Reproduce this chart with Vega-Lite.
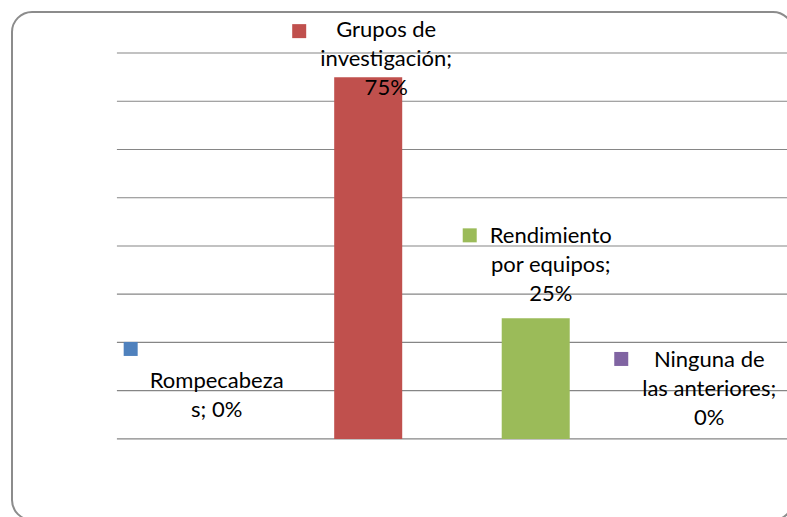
{
  "$schema": "https://vega.github.io/schema/vega-lite/v6.json",
  "width": 781,
  "height": 508,
  "autosize": {"type": "none"},
  "padding": {"left": 12, "top": 12, "right": 0, "bottom": 0},
  "background": "white",
  "config": {
    "view": {"stroke": "#8c8c8c", "strokeWidth": 2, "cornerRadius": 20},
    "text": {"font": "Lato", "fontSize": 22, "color": "#000000", "lineHeight": 29, "lineBreak": "\n"}
  },
  "datasets": {
    "bars": [
      {"cat": "Rompecabezas", "value": 0, "label": "Rompecabeza\ns; 0%"},
      {"cat": "Grupos de investigación", "value": 75, "label": "Grupos de\ninvestigación;\n75%"},
      {"cat": "Rendimiento por equipos", "value": 25, "label": "Rendimiento\npor equipos;\n25%"},
      {"cat": "Ninguna de las anteriores", "value": 0, "label": "Ninguna de\nlas anteriores;\n0%"}
    ],
    "grid": [{"v": 0}, {"v": 10}, {"v": 20}, {"v": 30}, {"v": 40}, {"v": 50}, {"v": 60}, {"v": 70}, {"v": 80}]
  },
  "encoding": {
    "x": {
      "field": "cat",
      "type": "nominal",
      "axis": null,
      "sort": null,
      "scale": {
        "type": "band",
        "domain": ["Rompecabezas", "Grupos de investigación", "Rendimiento por equipos", "Ninguna de las anteriores"],
        "paddingInner": 0,
        "paddingOuter": 0.331,
        "align": 0.946
      }
    },
    "y": {
      "field": "value",
      "type": "quantitative",
      "axis": null,
      "scale": {"domain": [-16.8, 88.5], "nice": false, "zero": false}
    }
  },
  "layer": [
    {
      "data": {"name": "grid"},
      "mark": {"type": "rule", "color": "#868686", "strokeWidth": 1.2},
      "encoding": {
        "x": {"datum": "Rompecabezas", "bandPosition": 0},
        "x2": {"datum": "Ninguna de las anteriores", "bandPosition": 1},
        "y": {"field": "v", "type": "quantitative"}
      }
    },
    {
      "data": {"name": "bars"},
      "mark": {"type": "bar", "width": {"band": 0.406}},
      "encoding": {
        "y2": {"datum": 0},
        "color": {
          "field": "cat",
          "type": "nominal",
          "legend": null,
          "scale": {
            "domain": ["Rompecabezas", "Grupos de investigación", "Rendimiento por equipos", "Ninguna de las anteriores"],
            "range": ["#4F81BD", "#C0504D", "#9BBB59", "#8064A2"]
          }
        }
      }
    },
    {
      "data": {"name": "bars"},
      "transform": [{"filter": "datum.cat === 'Rompecabezas'"}],
      "layer": [
        {"mark": {"type": "point", "shape": "square", "filled": true, "opacity": 1, "size": 196, "xOffset": -70, "yOffset": -90},
         "encoding": {"color": {"value": "#4F81BD"}}},
        {"mark": {"type": "text", "dx": 16, "dy": -58, "baseline": "middle", "align": "center"},
         "encoding": {"text": {"field": "label"}}}
      ]
    },
    {
      "data": {"name": "bars"},
      "transform": [{"filter": "datum.cat === 'Grupos de investigación'"}],
      "layer": [
        {"mark": {"type": "point", "shape": "square", "filled": true, "opacity": 1, "size": 196, "xOffset": -69, "yOffset": -46},
         "encoding": {"color": {"value": "#C0504D"}}},
        {"mark": {"type": "text", "dx": 18, "dy": -47, "baseline": "middle", "align": "center"},
         "encoding": {"text": {"field": "label"}}}
      ]
    },
    {
      "data": {"name": "bars"},
      "transform": [{"filter": "datum.cat === 'Rendimiento por equipos'"}],
      "layer": [
        {"mark": {"type": "point", "shape": "square", "filled": true, "opacity": 1, "size": 196, "xOffset": -66, "yOffset": -83},
         "encoding": {"color": {"value": "#9BBB59"}}},
        {"mark": {"type": "text", "dx": 15, "dy": -82, "baseline": "middle", "align": "center"},
         "encoding": {"text": {"field": "label"}}}
      ]
    },
    {
      "data": {"name": "bars"},
      "transform": [{"filter": "datum.cat === 'Ninguna de las anteriores'"}],
      "layer": [
        {"mark": {"type": "point", "shape": "square", "filled": true, "opacity": 1, "size": 196, "xOffset": -82, "yOffset": -80},
         "encoding": {"color": {"value": "#8064A2"}}},
        {"mark": {"type": "text", "dx": 6, "dy": -79, "baseline": "middle", "align": "center"},
         "encoding": {"text": {"field": "label"}}}
      ]
    }
  ]
}
